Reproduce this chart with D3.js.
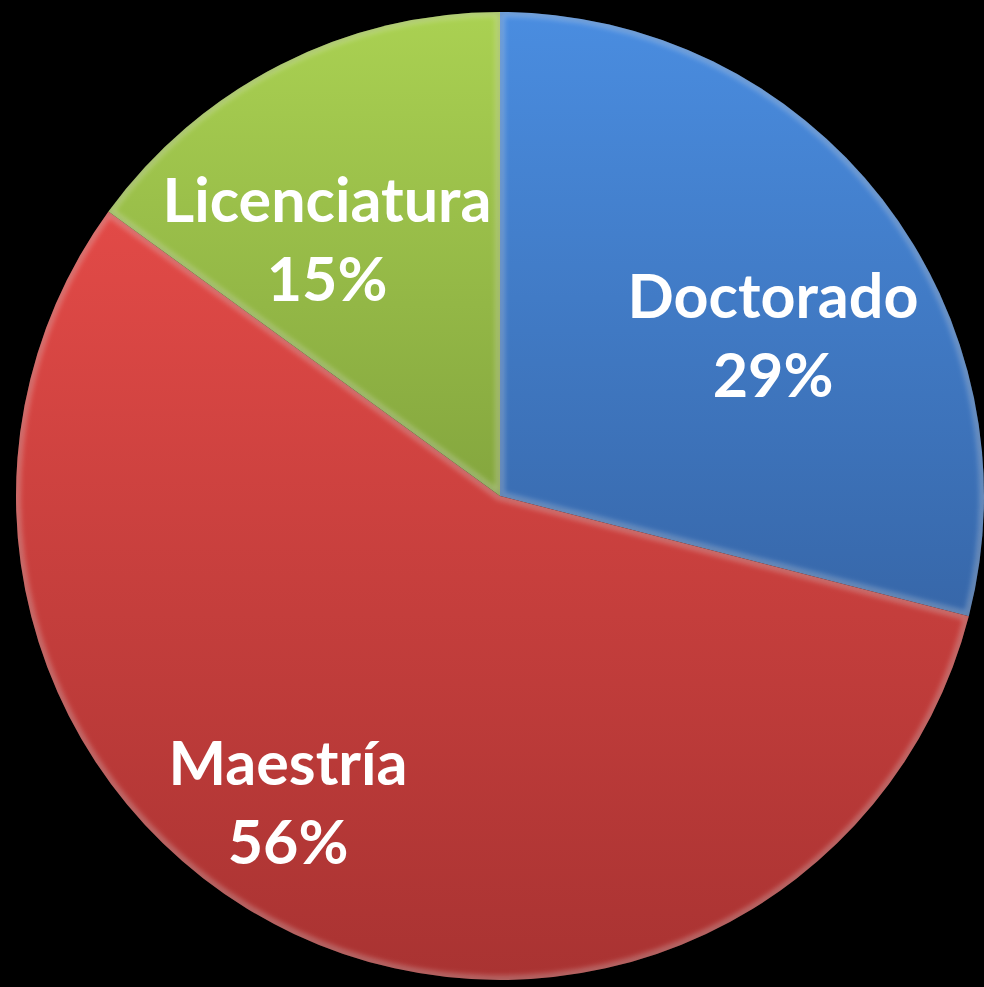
<!DOCTYPE html>
<html>
<head>
<meta charset="utf-8">
<script src="https://cdn.jsdelivr.net/npm/d3@7"></script>
<style>
  html, body { margin: 0; padding: 0; background: #000; }
  svg { display: block; }
</style>
</head>
<body>
<svg id="chart" width="984" height="987"></svg>
<script>
// Distribution by academic degree
const categories = ["Doctorado", "Maestría", "Licenciatura"];
const values = [29, 56, 15];
const labels = ["29%", "56%", "15%"];
const topColors = ["#4a8de0", "#e24a47", "#aad152"];
const bottomColors = ["#3767a9", "#a93332", "#84a63e"];

const W = 984, H = 987;
const cx = 500, cy = 496, R = 484;

const svg = d3.select("#chart");
svg.append("rect").attr("width", W).attr("height", H).attr("fill", "#000");

const defs = svg.append("defs");

categories.forEach((c, i) => {
  const g = defs.append("linearGradient")
    .attr("id", "grad" + i)
    .attr("x1", 0).attr("y1", 0).attr("x2", 0).attr("y2", 1);
  g.append("stop").attr("offset", "0%").attr("stop-color", topColors[i]);
  g.append("stop").attr("offset", "100%").attr("stop-color", bottomColors[i]);
});

const blur = defs.append("filter").attr("id", "soft")
  .attr("x", "-10%").attr("y", "-10%").attr("width", "120%").attr("height", "120%");
blur.append("feGaussianBlur").attr("stdDeviation", 2.5);

const pie = d3.pie().sort(null).value(d => d.value);
const data = pie(categories.map((c, i) => ({ name: c, value: values[i], label: labels[i], i })));
const arc = d3.arc().innerRadius(0).outerRadius(R);

const root = svg.append("g").attr("transform", `translate(${cx},${cy})`);

data.forEach((d, k) => {
  defs.append("clipPath").attr("id", "clip" + k)
    .append("path").attr("d", arc(d));
});

const slices = root.selectAll("g.slice").data(data).join("g").attr("class", "slice");

slices.append("path")
  .attr("d", arc)
  .attr("fill", d => `url(#grad${d.data.i})`);

// bevelled edge: soft light rim on the inside of each slice
slices.append("path")
  .attr("d", arc)
  .attr("fill", "none")
  .attr("stroke", "#ffffff")
  .attr("stroke-opacity", 0.28)
  .attr("stroke-width", 9)
  .attr("stroke-linejoin", "round")
  .attr("clip-path", (d, k) => `url(#clip${k})`)
  .attr("filter", "url(#soft)");

slices.append("path")
  .attr("d", arc)
  .attr("fill", "none")
  .attr("stroke", "#000000")
  .attr("stroke-opacity", 0.25)
  .attr("stroke-width", 2)
  .attr("clip-path", (d, k) => `url(#clip${k})`)
  .attr("filter", "url(#soft)");

// labels
const labelPos = [
  { x: 773, y: 318 },
  { x: 288, y: 785 },
  { x: 327, y: 222 }
];
const lineGap = 79;

const txt = svg.append("g")
  .attr("font-family", "Lato, 'Open Sans', sans-serif")
  .attr("font-weight", 700)
  .attr("font-size", 61)
  .attr("fill", "#ffffff")
  .attr("text-anchor", "middle");

data.forEach(d => {
  const p = labelPos[d.data.i];
  txt.append("text").attr("x", p.x).attr("y", p.y).text(d.data.name);
  txt.append("text").attr("x", p.x).attr("y", p.y + lineGap).text(d.data.label);
});
</script>
</body>
</html>
